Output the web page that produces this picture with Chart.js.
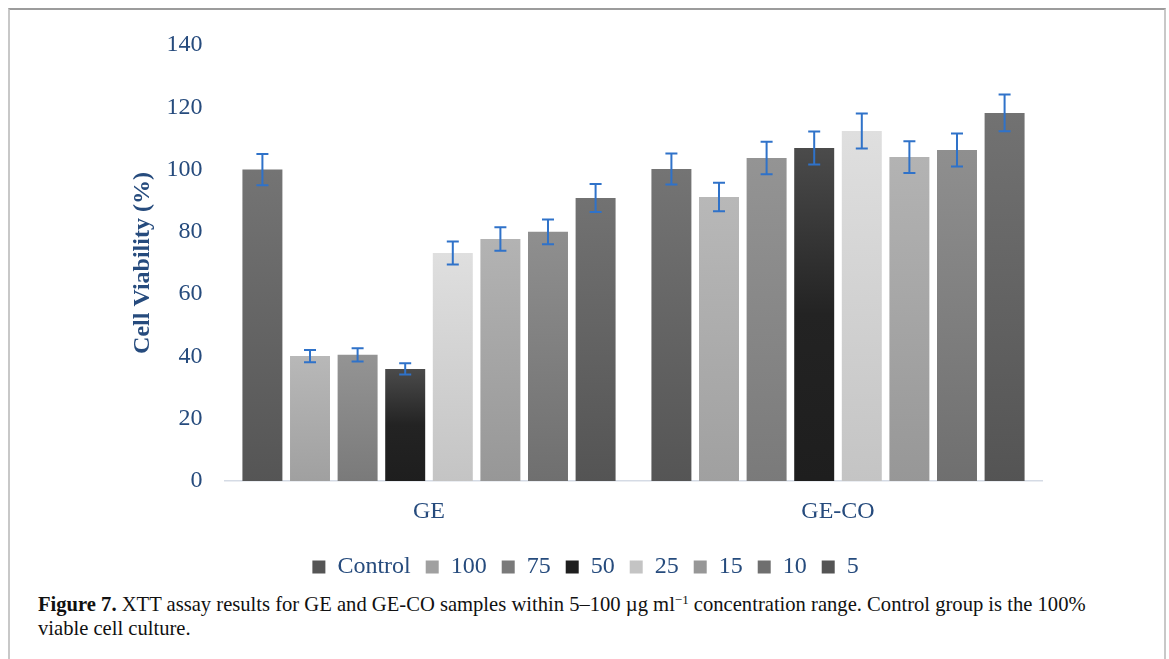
<!DOCTYPE html>
<html>
<head>
<meta charset="utf-8">
<script src="https://cdn.jsdelivr.net/npm/chart.js@4.4.1/dist/chart.umd.min.js"></script>
<style>
  html, body { margin: 0; padding: 0; background: #fff; }
  body { width: 1169px; height: 659px; position: relative; overflow: hidden; }
  #frame { position: absolute; left: 8px; top: 8px; width: 1154px; height: 660px;
           border-top: 2px solid #9c9c9c; border-left: 2px solid #c8c8c8; border-right: 2px solid #c8c8c8; }
  #wrap { position: absolute; left: 0; top: 0; width: 1169px; height: 589px; }
  #caption { position: absolute; left: 38px; top: 592px; width: 1110px;
             font-family: "Liberation Serif", serif; font-size: 20.6px; line-height: 24px; color: #111; }
  #caption b { font-weight: bold; }
  sup { font-size: 13px; line-height: 0; vertical-align: 7px; }
</style>
</head>
<body>
<div id="frame"></div>
<div id="wrap"><canvas id="c"></canvas></div>
<div id="caption"><b>Figure 7.</b> XTT assay results for GE and GE-CO samples within 5–100 µg ml<sup>−1</sup> concentration range. Control group is the 100%<br>viable cell culture.</div>
<script>
const categories = ["GE", "GE-CO"];
const seriesNames = ["Control", "100", "75", "50", "25", "15", "10", "5"];
const control = [100, 100.2];
const c100 = [40.1, 91.2];
const c75 = [40.5, 103.7];
const c50 = [36.0, 106.9];
const c25 = [73.2, 112.4];
const c15 = [77.7, 104.0];
const c10 = [80.0, 106.3];
const c5 = [90.9, 118.2];
const errControl = [5.0, 5.0];
const err100 = [2.0, 4.6];
const err75 = [2.1, 5.2];
const err50 = [1.8, 5.3];
const err25 = [3.7, 5.6];
const err15 = [3.8, 5.1];
const err10 = [4.0, 5.3];
const err5 = [4.5, 5.9];
const yTicks = [0, 20, 40, 60, 80, 100, 120, 140];

const seriesValues = [control, c100, c75, c50, c25, c15, c10, c5];
const seriesErrors = [errControl, err100, err75, err50, err25, err15, err10, err5];
const gradStops = [
  [[0, '#747474'], [1, '#555555']],
  [[0, '#b8b8b8'], [1, '#a0a0a0']],
  [[0, '#949494'], [1, '#7a7a7a']],
  [[0, '#4b4b4b'], [0.5, '#232323'], [1, '#1e1e1e']],
  [[0, '#dfdfdf'], [1, '#c4c4c4']],
  [[0, '#b3b3b3'], [1, '#979797']],
  [[0, '#8f8f8f'], [1, '#6f6f6f']],
  [[0, '#727272'], [1, '#545454']]
];
const legendColors = ['#636363', '#adadad', '#878787', '#2a2a2a', '#d3d3d3', '#a5a5a5', '#7f7f7f', '#636363'];

const blue = '#264b7d';
const FONT = '"Liberation Serif", "Times New Roman", serif';
Chart.defaults.font.family = FONT;

function makeBg(i) {
  return function(ctx) {
    if (ctx.type !== 'data') return legendColors[i];
    const chart = ctx.chart;
    const ys = chart.scales.y;
    if (!chart.chartArea || !ys) return legendColors[i];
    const v = ctx.raw;
    const top = ys.getPixelForValue(v);
    const bot = ys.getPixelForValue(0);
    if (!isFinite(top) || !isFinite(bot) || top === bot) return legendColors[i];
    const g = chart.ctx.createLinearGradient(0, top, 0, bot);
    gradStops[i].forEach(s => g.addColorStop(s[0], s[1]));
    return g;
  };
}

const datasets = seriesNames.map((name, i) => ({
  label: name,
  data: seriesValues[i],
  errors: seriesErrors[i],
  backgroundColor: makeBg(i),
  borderWidth: 0,
  categoryPercentage: 0.931,
  barPercentage: 0.84
}));

const errorBars = {
  id: 'errorBars',
  afterDatasetsDraw(chart) {
    const ctx = chart.ctx;
    const ys = chart.scales.y;
    ctx.save();
    ctx.strokeStyle = '#2f72c9';
    ctx.lineWidth = 2;
    chart.data.datasets.forEach((ds, di) => {
      const meta = chart.getDatasetMeta(di);
      meta.data.forEach((el, j) => {
        const v = ds.data[j], e = ds.errors[j];
        const yt = ys.getPixelForValue(v + e);
        const yb = ys.getPixelForValue(v - e);
        const x = el.x;
        ctx.beginPath();
        ctx.moveTo(x, yt); ctx.lineTo(x, yb);
        ctx.moveTo(x - 6, yt); ctx.lineTo(x + 6, yt);
        ctx.moveTo(x - 6, yb); ctx.lineTo(x + 6, yb);
        ctx.stroke();
      });
    });
    ctx.restore();
  }
};

new Chart(document.getElementById('c'), {
  type: 'bar',
  data: { labels: categories, datasets },
  plugins: [errorBars],
  options: {
    responsive: true,
    maintainAspectRatio: false,
    animation: false,
    layout: { padding: { left: 128.6, right: 126.5, top: 45, bottom: 0 } },
    plugins: {
      tooltip: { enabled: false },
      legend: {
        position: 'bottom',
        labels: {
          color: blue,
          font: { size: 24, family: FONT },
          boxWidth: 13,
          boxHeight: 13,
          padding: 15
        }
      }
    },
    scales: {
      x: {
        grid: { display: false, drawTicks: false },
        border: { display: true, color: '#d5dbe5', width: 1.5 },
        ticks: { color: blue, font: { size: 24, family: FONT }, padding: 16 },
        afterFit(s) { s.height = 59; }
      },
      y: {
        min: 0, max: 140,
        afterBuildTicks(s) { s.ticks = yTicks.map(v => ({ value: v })); },
        grid: { display: false, drawTicks: false },
        border: { display: false },
        ticks: { color: blue, font: { size: 24, family: FONT }, padding: 22 },
        title: { display: true, text: 'Cell Viability (%)', color: blue,
                 font: { size: 24, weight: 'bold', family: FONT }, padding: { top: 0, bottom: 0 } },
        afterFit(s) { s.width = 95.9; }
      }
    }
  }
});
</script>
</body>
</html>
